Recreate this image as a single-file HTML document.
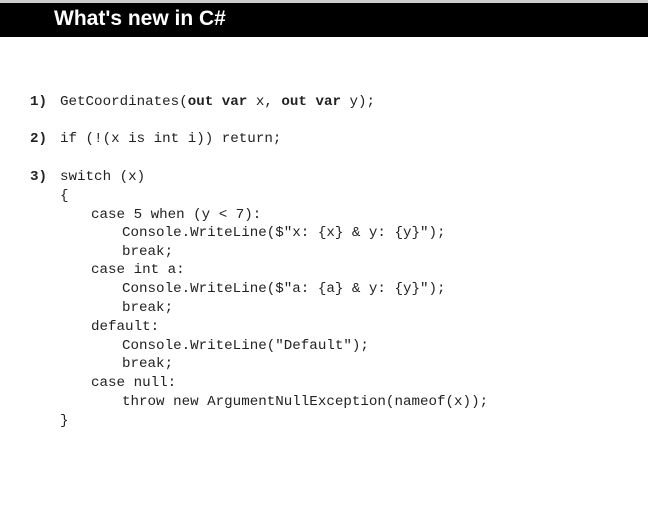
<!DOCTYPE html>
<html><head><meta charset="utf-8"><style>
body{margin:0;width:648px;height:514px;background:#fff;position:relative;overflow:hidden}
.top{position:absolute;left:0;top:0;width:648px;height:3px;background:#ccc}
.bar{position:absolute;left:0;top:3px;width:648px;height:34px;background:#000}
.t{position:absolute;left:54px;top:7px;color:#fff;font:bold 21px "Liberation Sans",sans-serif}
.l{position:absolute;font:14.2px/18px "Liberation Mono",monospace;color:#222;white-space:pre}
b{font-weight:bold}
</style></head><body>
<div class="top"></div><div class="bar"></div>
<div class="t">What's new in C#</div>
<div class="l" style="left:30px;top:93px"><b>1)</b></div>
<div class="l" style="left:60px;top:93px">GetCoordinates(<b>out</b> <b>var</b> x, <b>out</b> <b>var</b> y);</div>
<div class="l" style="left:30px;top:130px"><b>2)</b></div>
<div class="l" style="left:60px;top:130px">if (!(x is int i)) return;</div>
<div class="l" style="left:30px;top:168px"><b>3)</b></div>
<div class="l" style="left:60px;top:168px">switch (x)</div>
<div class="l" style="left:60px;top:187px">{</div>
<div class="l" style="left:91px;top:206px">case 5 when (y &lt; 7):</div>
<div class="l" style="left:122px;top:224px">Console.WriteLine($"x: {x} &amp; y: {y}");</div>
<div class="l" style="left:122px;top:243px">break;</div>
<div class="l" style="left:91px;top:261px">case int a:</div>
<div class="l" style="left:122px;top:280px">Console.WriteLine($"a: {a} &amp; y: {y}");</div>
<div class="l" style="left:122px;top:299px">break;</div>
<div class="l" style="left:91px;top:318px">default:</div>
<div class="l" style="left:122px;top:337px">Console.WriteLine("Default");</div>
<div class="l" style="left:122px;top:355px">break;</div>
<div class="l" style="left:91px;top:374px">case null:</div>
<div class="l" style="left:122px;top:393px">throw new ArgumentNullException(nameof(x));</div>
<div class="l" style="left:60px;top:412px">}</div>
</body></html>
